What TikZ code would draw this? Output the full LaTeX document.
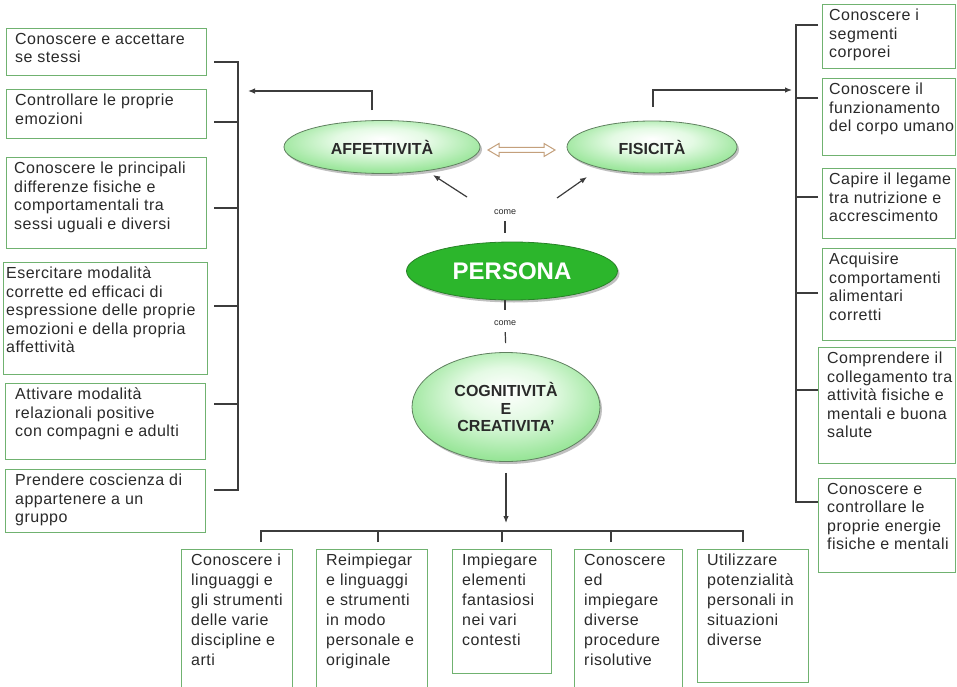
\documentclass[tikz,border=0pt]{standalone}
\usepackage{fontspec}
\setmainfont{Liberation Sans}
\newfontfamily\boxfont[LetterSpace=3]{Liberation Sans}
\usetikzlibrary{arrows.meta,shadows,shapes.geometric}

\definecolor{boxgreen}{RGB}{112,178,112}
\definecolor{wirec}{RGB}{60,60,60}
\definecolor{ink}{RGB}{42,42,42}
\definecolor{glow}{RGB}{72,200,72}
\definecolor{glowmid}{RGB}{140,226,140}
\definecolor{glowpale}{RGB}{228,250,228}
\definecolor{deep}{RGB}{44,182,44}
\definecolor{deeprim}{RGB}{40,130,40}
\definecolor{tanline}{RGB}{196,160,124}
\definecolor{rim}{RGB}{96,128,96}

% soft radial fill for the light ellipses, brighter towards the top
\pgfdeclareradialshading{leafglow}{\pgfpoint{0bp}{8bp}}{%
  color(0bp)=(white); color(12bp)=(glowpale); color(30bp)=(glowmid); color(46bp)=(glow); color(50bp)=(glow)}

% a framed goal: empty box node plus its text set from the top-left corner
% #1 name, #2 x, #3 y, #4 width, #5 height, #6 text style, #7 left padding, #8 text
\newcommand\goalbox[8]{%
  \node[goal, minimum width=#4pt, minimum height=#5pt] (#1) at (#2,#3) {};
  \node[#6] at ([shift={(#7pt,-5pt)}]#1.north west) {#8};}

\begin{document}
\begin{tikzpicture}[x=1pt,y=-1pt,
  goal/.style={draw=boxgreen, line width=1.1pt, rectangle, inner sep=0pt, anchor=north west},
  sidetxt/.style={anchor=north west, inner sep=0pt, align=left, text=ink,
    font=\boxfont\fontsize{16}{18.5}\selectfont},
  bottxt/.style={anchor=north west, inner sep=0pt, align=left, text=ink,
    font=\boxfont\fontsize{16}{20}\selectfont},
  wire/.style={draw=wirec, line width=1.2pt},
  tip/.style={-{Latex[length=7pt,width=5.5pt]}},
  leaf/.style={ellipse, draw=rim, line width=0.8pt, shade, shading=leafglow,
    drop shadow={shadow xshift=2pt, shadow yshift=-2.5pt, opacity=0.35, fill=black!70},
    font=\bfseries\fontsize{16}{17.5}\selectfont, text=ink, align=center, inner sep=0pt},
  core/.style={ellipse, fill=deep, draw=deeprim, line width=0.8pt,
    drop shadow={shadow xshift=2pt, shadow yshift=-2.5pt, opacity=0.35, fill=black!70},
    font=\bfseries\fontsize{24}{26}\selectfont, text=white, inner sep=0pt},
  linkword/.style={font=\fontsize{9}{10}\selectfont, text=ink, inner sep=1.5pt}]

\useasboundingbox (0,0) rectangle (957,687);
\fill[white] (0,0) rectangle (957,687);

% ---- left column: AFFETTIVITÀ goals
\goalbox{l1}{6}{28}{200}{47}{sidetxt}{9}{Conoscere e accettare\\se stessi}
\goalbox{l2}{6}{89}{200}{49}{sidetxt}{9}{Controllare le proprie\\emozioni}
\goalbox{l3}{6}{157}{200}{91}{sidetxt}{8}{Conoscere le principali\\differenze fisiche e\\comportamentali tra\\sessi uguali e diversi}
\goalbox{l4}{3}{262}{204}{112}{sidetxt}{3}{Esercitare modalità\\corrette ed efficaci di\\espressione delle proprie\\emozioni e della propria\\affettività}
\goalbox{l5}{5}{383}{200}{76}{sidetxt}{10}{Attivare modalità\\relazionali positive\\con compagni e adulti}
\goalbox{l6}{5}{469}{200}{63}{sidetxt}{10}{Prendere coscienza di\\appartenere a un\\gruppo}

% ---- right column: FISICITÀ goals
\goalbox{r1}{822}{4}{133}{64}{sidetxt}{7}{Conoscere i\\segmenti\\corporei}
\goalbox{r2}{822}{78}{133}{77}{sidetxt}{7}{Conoscere il\\funzionamento\\del corpo umano}
\goalbox{r3}{822}{168}{133}{70}{sidetxt}{7}{Capire il legame\\tra nutrizione e\\accrescimento}
\goalbox{r4}{822}{248}{133}{92}{sidetxt}{7}{Acquisire\\comportamenti\\alimentari\\corretti}
\goalbox{r5}{818}{347}{137}{116}{sidetxt}{9}{Comprendere il\\collegamento tra\\attività fisiche e\\mentali e buona\\salute}
\goalbox{r6}{818}{478}{137}{94}{sidetxt}{9}{Conoscere e\\controllare le\\proprie energie\\fisiche e mentali}

% ---- bottom row: COGNITIVITÀ E CREATIVITÀ goals
\goalbox{b1}{181}{549}{111}{142}{bottxt}{10}{Conoscere i\\linguaggi e\\gli strumenti\\delle varie\\discipline e\\arti}
\goalbox{b2}{316}{549}{111}{142}{bottxt}{10}{Reimpiegar\\e linguaggi\\e strumenti\\in modo\\personale e\\originale}
\goalbox{b3}{452}{549}{99}{124}{bottxt}{10}{Impiegare\\elementi\\fantasiosi\\nei vari\\contesti}
\goalbox{b4}{574}{549}{108}{142}{bottxt}{10}{Conoscere\\ed\\impiegare\\diverse\\procedure\\risolutive}
\goalbox{b5}{697}{549}{111}{133}{bottxt}{10}{Utilizzare\\potenzialità\\personali in\\situazioni\\diverse}

% ---- central concepts
\node[leaf, minimum width=196pt, minimum height=53pt] (aff) at (382,147) {AFFETTIVITÀ};
\node[leaf, minimum width=170pt, minimum height=52pt] (fis) at (652,147) {FISICITÀ};
\node[core, minimum width=211pt, minimum height=58pt] (pers) at (512,271) {PERSONA};
\node[leaf, minimum width=188pt, minimum height=109pt] (cog) at (506,407) {COGNITIVITÀ\\E\\CREATIVITA'};
\node[linkword] (c1) at (505,212) {come};
\node[linkword] (c2) at (505,323) {come};

% hollow two-way arrow between the two upper concepts
\draw[draw=tanline, line width=1pt, fill=white, line join=miter]
  (488,150) -- (499,143.5) -- (499,147.5) -- (544,147.5) -- (544,143.5) -- (555,150)
  -- (544,156.5) -- (544,152.5) -- (499,152.5) -- (499,156.5) -- cycle;

% links through "come"
\draw[wire, tip] ([shift={(-38pt,15pt)}]c1.center) -- ([shift={(51pt,-28pt)}]aff.center);
\draw[wire, tip] ([shift={(52pt,14pt)}]c1.center) -- ([shift={(-65pt,-30pt)}]fis.center);
\draw[wire, shorten <=5pt, shorten >=9pt] (c1.south) -- (c1.south |- pers.north);
\draw[wire, shorten >=9pt] (pers.south -| c2.north) -- (c2.north);
\draw[wire, shorten <=5pt, shorten >=9pt] (c2.south) -- (cog.north);

% left bracket
\foreach \y [count=\i] in {62,122,208,306,404,490} \coordinate (lt\i) at (214,\y);
\coordinate (lspine) at (238,0);
\draw[wire] (lt1) -- (lt1 -| lspine) -- (lt6 -| lspine) -- (lt6);
\foreach \i in {2,3,4,5} \draw[wire] (lt\i) -- (lt\i -| lspine);
\coordinate (lhead) at (248,91);
\draw[wire, tip] ([shift={(-10pt,10pt)}]aff.north) |- (lhead);

% right bracket
\foreach \y [count=\i] in {25,98,197,293,390,502} \coordinate (rt\i) at (818,\y);
\coordinate (rspine) at (796,0);
\draw[wire] (rt1) -- (rt1 -| rspine) -- (rt6 -| rspine) -- (rt6);
\foreach \i in {2,3,4,5} \draw[wire] (rt\i) -- (rt\i -| rspine);
\coordinate (rhead) at (792,90);
\draw[wire, tip] ([shift={(1pt,14pt)}]fis.north) |- (rhead);

% bottom bus
\foreach \x [count=\i] in {261,378,502,611,743} \coordinate (bt\i) at (\x,542);
\coordinate (bus) at (0,531);
\draw[wire] (bt1) -- (bt1 |- bus) -- (bt5 |- bus) -- (bt5);
\foreach \i in {2,3,4} \draw[wire] (bt\i) -- (bt\i |- bus);
\draw[wire, tip, shorten <=11pt, shorten >=8pt] (cog.south) -- (cog.south |- bus);

\end{tikzpicture}
\end{document}
